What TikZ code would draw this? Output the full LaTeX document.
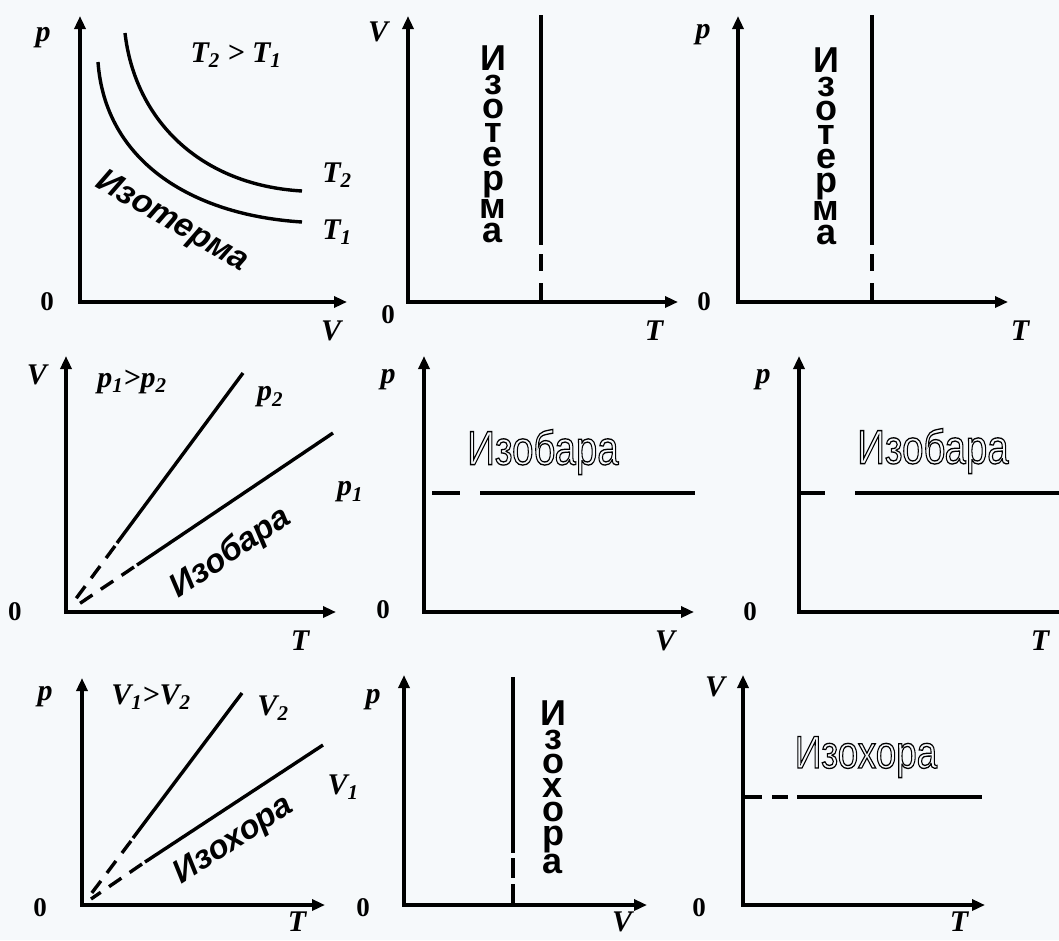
\documentclass[tikz,border=0pt]{standalone}
\usepackage{fontspec}
\setmainfont{Liberation Serif}
\setsansfont{Liberation Sans}
\usetikzlibrary{arrows.meta}
\definecolor{bgcol}{RGB}{246,249,251}
\newcommand{\hollow}[1]{\special{pdf:literal direct 1 Tr 1.3 w}#1\special{pdf:literal direct 0 Tr}}
\begin{document}
\begin{tikzpicture}[x=1pt,y=-1pt,
  >={Triangle[length=13pt,width=11pt]},
  ax/.style={line width=3.4pt,<->},
  crv/.style={line width=3.4pt},
  lbl/.style={font=\fontsize{30}{32}\selectfont\bfseries\itshape,inner sep=0pt},
  zero/.style={font=\fontsize{27}{29}\selectfont\bfseries,inner sep=0pt},
  vtxt/.style={font=\fontsize{36}{24}\selectfont\sffamily\bfseries,align=center,anchor=north,inner sep=0pt},
  rtxt/.style={font=\fontsize{33}{35}\selectfont\sffamily\bfseries\itshape,inner sep=0pt},
  otxt/.style={font=\fontsize{48}{50}\selectfont\sffamily,inner sep=0pt,xscale=0.8}]
\fill[bgcol] (0,0) rectangle (1059,940);
\useasboundingbox (0,0) rectangle (1059,940);

% ---------- Panel 1: p-V isotherms
\coordinate (a1y) at (80,16); \coordinate (a1o) at (80,302); \coordinate (a1x) at (347,302);
\draw[ax] (a1y) -- (a1o) -- (a1x);
\draw[crv] (125,33) .. controls (135,120) and (200,185) .. (302,191);
\draw[crv] (98,62) .. controls (105,160) and (190,215) .. (302,222);
\node[lbl] (l1p) at (43,38) {p};
\node[lbl] (l1c) at (236,55) {T\textsubscript{2} > T\textsubscript{1}};
\node[lbl] (l1t2) at (337,175) {T\textsubscript{2}};
\node[lbl] (l1t1) at (337,232) {T\textsubscript{1}};
\node[zero] (l1z) at (47,302) {0};
\node[lbl] (l1v) at (331,331) {V};
\node[rtxt,rotate=-30] (t1) at (172,222) {Изотерма};

% ---------- Panel 2: V-T isotherm
\coordinate (a2y) at (408,16); \coordinate (a2o) at (408,302); \coordinate (a2x) at (678,302);
\draw[ax] (a2y) -- (a2o) -- (a2x);
\draw[crv] (541,15) -- (541,245);
\draw[crv] (541,254) -- (541,271) (541,283) -- (541,302);
\node[lbl] (l2v) at (378,32) {V};
\node[zero] (l2z) at (388,315) {0};
\node[lbl] (l2t) at (654,331) {T};
\node[vtxt] (t2) at (493,46) {И\\з\\о\\т\\е\\р\\м\\а};

% ---------- Panel 3: p-T isotherm
\coordinate (a3y) at (738,16); \coordinate (a3o) at (738,302); \coordinate (a3x) at (1008,302);
\draw[ax] (a3y) -- (a3o) -- (a3x);
\draw[crv] (872,15) -- (872,245);
\draw[crv] (872,254) -- (872,271) (872,283) -- (872,302);
\node[lbl] (l3p) at (703,35) {p};
\node[zero] (l3z) at (704,302) {0};
\node[lbl] (l3t) at (1020,331) {T};
\node[vtxt] (t3) at (826,48) {И\\з\\о\\т\\е\\р\\м\\а};

% ---------- Panel 4: V-T isobars
\coordinate (a4y) at (66,356); \coordinate (a4o) at (66,612); \coordinate (a4x) at (336,612);
\draw[ax] (a4y) -- (a4o) -- (a4x);
\draw[crv] (117,543) -- (243,373);
\draw[crv,dash pattern=on 15pt off 10pt] (115,546) -- (72,604);
\draw[crv] (137,565) -- (333,433);
\draw[crv,dash pattern=on 15pt off 10pt] (134,567) -- (76,606);
\node[lbl] (l4v) at (37,375) {V};
\node[lbl] (l4c) at (132,382) {p\textsubscript{1}>p\textsubscript{2}};
\node[lbl] (l4p2) at (270,397) {p\textsubscript{2}};
\node[lbl] (l4p1) at (350,492) {p\textsubscript{1}};
\node[zero] (l4z) at (15,612) {0};
\node[lbl] (l4t) at (300,641) {T};
\node[rtxt,rotate=34] (t4) at (231,553) {Изобара};

% ---------- Panel 5: p-V isobar
\coordinate (a5y) at (424,356); \coordinate (a5o) at (424,612); \coordinate (a5x) at (694,612);
\draw[ax] (a5y) -- (a5o) -- (a5x);
\draw[crv] (432,493) -- (460,493) (480,493) -- (695,493);
\node[lbl] (l5p) at (388,380) {p};
\node[zero] (l5z) at (383,610) {0};
\node[lbl] (l5v) at (665,641) {V};
\node[otxt] (t5) at (543,452) {\hollow{Изобара}};

% ---------- Panel 6: p-T isobar
\coordinate (a6y) at (799,356); \coordinate (a6o) at (799,612); \coordinate (a6x) at (1062,612);
\draw[line width=3.4pt,<-] (a6y) -- (a6o) -- (a6x);
\draw[crv] (800,493) -- (825,493) (855,493) -- (1062,493);
\node[lbl] (l6p) at (763,380) {p};
\node[zero] (l6z) at (750,612) {0};
\node[lbl] (l6t) at (1040,641) {T};
\node[otxt] (t6) at (933,451) {\hollow{Изобара}};

% ---------- Panel 7: p-T isochores
\coordinate (a7y) at (82,678); \coordinate (a7o) at (82,905); \coordinate (a7x) at (325,905);
\draw[ax] (a7y) -- (a7o) -- (a7x);
\draw[crv] (133,838) -- (242,693);
\draw[crv,dash pattern=on 15pt off 10pt] (131,841) -- (88,898);
\draw[crv] (145,862) -- (323,745);
\draw[crv,dash pattern=on 15pt off 10pt] (142,864) -- (91,899);
\node[lbl] (l7p) at (45,697) {p};
\node[lbl] (l7c) at (151,697) {V\textsubscript{1}>V\textsubscript{2}};
\node[lbl] (l7v2) at (273,708) {V\textsubscript{2}};
\node[lbl] (l7v1) at (343,787) {V\textsubscript{1}};
\node[zero] (l7z) at (40,908) {0};
\node[lbl] (l7t) at (297,922) {T};
\node[rtxt,rotate=33] (t7) at (234,841) {Изохора};

% ---------- Panel 8: p-V isochore
\coordinate (a8y) at (404,675); \coordinate (a8o) at (404,905); \coordinate (a8x) at (647,905);
\draw[ax] (a8y) -- (a8o) -- (a8x);
\draw[crv] (513,677) -- (513,853);
\draw[crv] (513,858) -- (513,878) (513,884) -- (513,905);
\node[lbl] (l8p) at (373,700) {p};
\node[zero] (l8z) at (363,908) {0};
\node[lbl] (l8v) at (622,922) {V};
\node[vtxt] (t8) at (553,701) {И\\з\\о\\х\\о\\р\\а};

% ---------- Panel 9: V-T isochore
\coordinate (a9y) at (743,675); \coordinate (a9o) at (743,905); \coordinate (a9x) at (985,905);
\draw[ax] (a9y) -- (a9o) -- (a9x);
\draw[crv] (745,797) -- (762,797) (772,797) -- (788,797) (797,797) -- (982,797);
\node[lbl] (l9v) at (715,687) {V};
\node[zero] (l9z) at (699,908) {0};
\node[lbl] (l9t) at (959,922) {T};
\node[otxt,font=\fontsize{46}{48}\selectfont\sffamily] (t9) at (866,757) {\hollow{Изохора}};
\end{tikzpicture}
\end{document}
